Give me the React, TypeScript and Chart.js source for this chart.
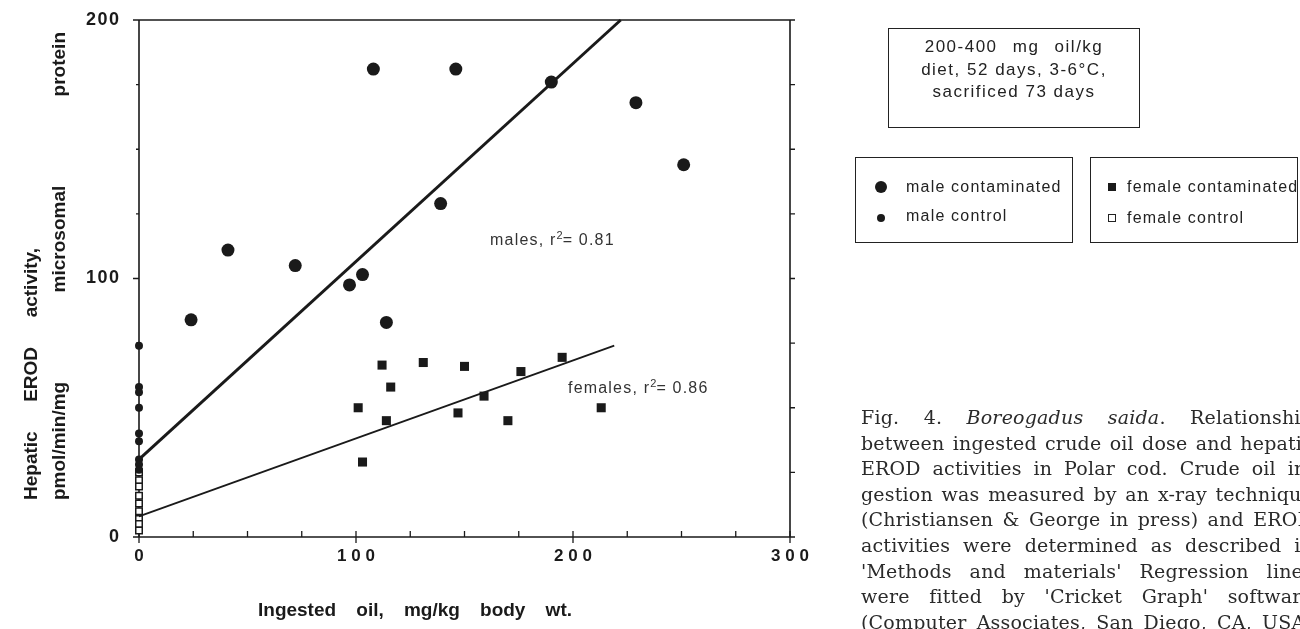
import React, { useEffect, useRef } from "react";
import { Chart, registerables } from "chart.js";

Chart.register(...registerables);

// ---- data ----
const maleContaminatedX = [24, 41, 72, 97, 103, 114, 108, 146, 139, 190, 229, 251];
const maleContaminatedY = [84, 111, 105, 97.5, 101.5, 83, 181, 181, 129, 176, 168, 144];
const maleControlY = [74, 58, 56, 50, 40, 37, 30, 28, 26];
const femaleContaminatedX = [101, 112, 116, 114, 131, 150, 159, 147, 170, 176, 195, 213, 103];
const femaleContaminatedY = [50, 66.5, 58, 45, 67.5, 66, 54.5, 48, 45, 64, 69.5, 50, 29];
const femaleControlY = [25, 22, 19.5, 16, 13, 10, 7, 5, 2.5];
const maleFitX = [0, 222];
const maleFitY = [30, 200];
const femaleFitX = [0, 219];
const femaleFitY = [8, 74];
const xMinorTicks = [0, 25, 50, 75, 100, 125, 150, 175, 200, 225, 250, 275, 300];
const yMinorTicks = [0, 25, 50, 75, 100, 125, 150, 175, 200];
const xMajorTicks = [0, 100, 200, 300];
const yMajorTicks = [0, 100, 200];

const pts = (xs: number[], ys: number[]) => ys.map((y, i) => ({ x: xs[i], y }));
const atZero = (ys: number[]) => ys.map((y) => ({ x: 0, y }));

const INK = "#1a1a1a";

const framePlugin = {
  id: "frame",
  beforeDatasetsDraw(chart: any) {
    const { ctx, chartArea: a, scales } = chart;
    const x = scales.x;
    const y = scales.y;
    ctx.save();
    ctx.strokeStyle = INK;
    ctx.lineWidth = 1.6;
    ctx.beginPath();
    ctx.moveTo(a.left, a.top);
    ctx.lineTo(a.right, a.top);
    ctx.moveTo(a.left, a.bottom);
    ctx.lineTo(a.right, a.bottom);
    ctx.moveTo(a.left, a.top);
    ctx.lineTo(a.left, a.bottom);
    ctx.moveTo(a.right, a.top);
    ctx.lineTo(a.right, a.bottom);
    ctx.stroke();
    ctx.lineWidth = 1.3;
    ctx.beginPath();
    xMinorTicks.forEach((v) => {
      const px = x.getPixelForValue(v);
      ctx.moveTo(px, a.bottom);
      ctx.lineTo(px, a.bottom - 6);
    });
    xMajorTicks.forEach((v) => {
      const px = x.getPixelForValue(v);
      ctx.moveTo(px, a.bottom);
      ctx.lineTo(px, a.bottom + 6);
    });
    yMinorTicks.forEach((v) => {
      const py = y.getPixelForValue(v);
      ctx.moveTo(a.left, py);
      ctx.lineTo(a.left - 3, py);
    });
    yMajorTicks.forEach((v) => {
      const py = y.getPixelForValue(v);
      ctx.moveTo(a.left, py);
      ctx.lineTo(a.left - 6, py);
    });
    yMinorTicks.forEach((v) => {
      const py = y.getPixelForValue(v);
      ctx.moveTo(a.right, py);
      ctx.lineTo(a.right + 5, py);
    });
    ctx.stroke();
    ctx.restore();
  },
};

const tickFont = { family: "Arial, 'Liberation Sans', sans-serif", size: 17, weight: "bold" as const };

export default function App() {
  const ref = useRef<HTMLCanvasElement | null>(null);

  useEffect(() => {
    if (!ref.current) return;
    const chart = new Chart(ref.current, {
      type: "scatter",
      data: {
        datasets: [
          {
            type: "line",
            data: pts(maleFitX, maleFitY),
            borderColor: INK,
            borderWidth: 3,
            pointRadius: 0,
            fill: false,
            clip: false,
          } as any,
          {
            type: "line",
            data: pts(femaleFitX, femaleFitY),
            borderColor: INK,
            borderWidth: 1.8,
            pointRadius: 0,
            fill: false,
            clip: false,
          } as any,
          {
            data: pts(maleContaminatedX, maleContaminatedY),
            pointStyle: "circle",
            pointRadius: 6.5,
            backgroundColor: INK,
            borderWidth: 0,
            clip: false,
          },
          {
            data: atZero(maleControlY),
            pointStyle: "circle",
            pointRadius: 4,
            backgroundColor: INK,
            borderWidth: 0,
            clip: false,
          },
          {
            data: pts(femaleContaminatedX, femaleContaminatedY),
            pointStyle: "rect",
            pointRadius: 6.4,
            backgroundColor: INK,
            borderWidth: 0,
            clip: false,
          },
          {
            data: atZero(femaleControlY),
            pointStyle: "rect",
            pointRadius: 4.6,
            backgroundColor: "#ffffff",
            borderColor: INK,
            borderWidth: 1.5,
            clip: false,
          },
        ],
      },
      options: {
        animation: false,
        responsive: false,
        events: [],
        layout: { padding: { top: 20, right: 510, left: 0, bottom: 0 } },
        plugins: { legend: { display: false }, tooltip: { enabled: false } },
        scales: {
          x: {
            type: "linear",
            min: 0,
            max: 300,
            border: { display: false },
            grid: { display: false, drawTicks: false },
            ticks: {
              stepSize: 100,
              autoSkip: false,
              maxRotation: 0,
              padding: 9,
              color: INK,
              font: tickFont,
              callback: (v: any) => String(v).split("").join(" "),
            },
            afterFit: (s: any) => {
              s.height = 92;
              s.paddingLeft = 0;
              s.paddingRight = 0;
            },
          },
          y: {
            type: "linear",
            min: 0,
            max: 200,
            border: { display: false },
            grid: { display: false, drawTicks: false },
            ticks: {
              stepSize: 100,
              autoSkip: false,
              padding: 20,
              color: INK,
              font: { ...tickFont, size: 18 },
              callback: (v: any) => String(v).split("").join("\u200A"),
            },
            afterFit: (s: any) => {
              s.width = 139;
              s.paddingTop = 0;
              s.paddingBottom = 0;
            },
          },
        },
      },
      plugins: [framePlugin],
    });
    return () => chart.destroy();
  }, []);

  const sans = "Arial, 'Liberation Sans', sans-serif";
  const legendText: React.CSSProperties = {
    position: "absolute",
    fontFamily: sans,
    fontSize: 16,
    letterSpacing: "1.2px",
    color: "#222",
    whiteSpace: "nowrap",
    lineHeight: "18px",
  };
  const captionLines = [
    null,
    "between ingested crude oil dose and hepatic",
    "EROD activities in Polar cod. Crude oil in-",
    "gestion was measured by an x-ray technique",
    "(Christiansen & George in press) and EROD",
    "activities were determined as described in",
    "'Methods and materials' Regression lines",
    "were fitted by 'Cricket Graph' software",
    "(Computer Associates, San Diego, CA, USA)",
  ];
  const capStyle = (i: number): React.CSSProperties => ({
    position: "absolute",
    left: 861,
    top: 405 + i * 25.6,
    width: 452,
    height: 25.6,
    lineHeight: "25.6px",
    fontFamily: "'DejaVu Serif', serif",
    fontSize: 19,
    letterSpacing: "0.2px",
    color: "#2a2a2a",
    textAlign: "justify",
    textAlignLast: "justify" as any,
    whiteSpace: "nowrap",
  });
  const titleStyle: React.CSSProperties = {
    position: "absolute",
    height: 24,
    lineHeight: "24px",
    fontFamily: sans,
    fontWeight: "bold",
    fontSize: 19,
    color: INK,
    textAlign: "justify",
    textAlignLast: "justify" as any,
    whiteSpace: "nowrap",
  };
  const supStyle: React.CSSProperties = { fontSize: 11, verticalAlign: "6px", lineHeight: 0, letterSpacing: 0 };

  return (
    <div
      style={{
        position: "fixed",
        left: 0,
        top: 0,
        width: 1300,
        height: 629,
        overflow: "hidden",
        background: "#fff",
      }}
    >
      <canvas ref={ref} width={1300} height={629} style={{ display: "block" }} />

      {/* y-axis title */}
      <div
        style={{
          ...titleStyle,
          left: 19,
          top: 500,
          width: 252,
          transformOrigin: "left top",
          transform: "rotate(-90deg)",
        }}
      >
        Hepatic EROD activity,
      </div>
      <div
        style={{
          ...titleStyle,
          left: 47,
          top: 500,
          width: 468,
          transformOrigin: "left top",
          transform: "rotate(-90deg)",
        }}
      >
        pmol/min/mg microsomal protein
      </div>

      {/* x-axis title */}
      <div style={{ ...titleStyle, left: 258, top: 598, width: 314 }}>Ingested oil, mg/kg body wt.</div>

      {/* regression annotations */}
      <div style={{ ...legendText, left: 490, top: 231, color: "#333" }}>
        males, r<sup style={supStyle}>2</sup>= 0.81
      </div>
      <div style={{ ...legendText, left: 568, top: 379, color: "#333" }}>
        females, r<sup style={supStyle}>2</sup>= 0.86
      </div>

      {/* info box */}
      <div
        style={{
          position: "absolute",
          left: 888,
          top: 28,
          width: 252,
          height: 100,
          boxSizing: "border-box",
          border: "1px solid #222",
          fontFamily: sans,
          fontSize: 17,
          letterSpacing: "1.5px",
          color: "#222",
          textAlign: "center",
          lineHeight: "22.5px",
          paddingTop: 7,
          whiteSpace: "nowrap",
        }}
      >
        <div style={{ wordSpacing: 9 }}>200-400 mg oil/kg</div>
        <div>diet, 52 days, 3-6°C,</div>
        <div>sacrificed 73 days</div>
      </div>

      {/* legend box 1 */}
      <div
        style={{
          position: "absolute",
          left: 855,
          top: 157,
          width: 218,
          height: 86,
          boxSizing: "border-box",
          border: "1px solid #222",
        }}
      />
      <div style={{ position: "absolute", left: 875, top: 181, width: 12, height: 12, borderRadius: 6, background: INK }} />
      <div style={{ ...legendText, left: 906, top: 178 }}>male contaminated</div>
      <div style={{ position: "absolute", left: 877, top: 214, width: 8, height: 8, borderRadius: 4, background: INK }} />
      <div style={{ ...legendText, left: 906, top: 207 }}>male control</div>

      {/* legend box 2 */}
      <div
        style={{
          position: "absolute",
          left: 1090,
          top: 157,
          width: 208,
          height: 86,
          boxSizing: "border-box",
          border: "1px solid #222",
        }}
      />
      <div style={{ position: "absolute", left: 1108, top: 183, width: 8, height: 8, background: INK }} />
      <div style={{ ...legendText, left: 1127, top: 178 }}>female contaminated</div>
      <div
        style={{
          position: "absolute",
          left: 1108,
          top: 214,
          width: 8,
          height: 8,
          boxSizing: "border-box",
          border: "1.5px solid #222",
          background: "#fff",
        }}
      />
      <div style={{ ...legendText, left: 1127, top: 209 }}>female control</div>

      {/* caption */}
      <div style={capStyle(0)}>
        Fig. 4. <i>Boreogadus saida</i>. Relationship
      </div>
      {captionLines.slice(1).map((t, i) => (
        <div key={i} style={capStyle(i + 1)}>
          {t}
        </div>
      ))}
    </div>
  );
}
